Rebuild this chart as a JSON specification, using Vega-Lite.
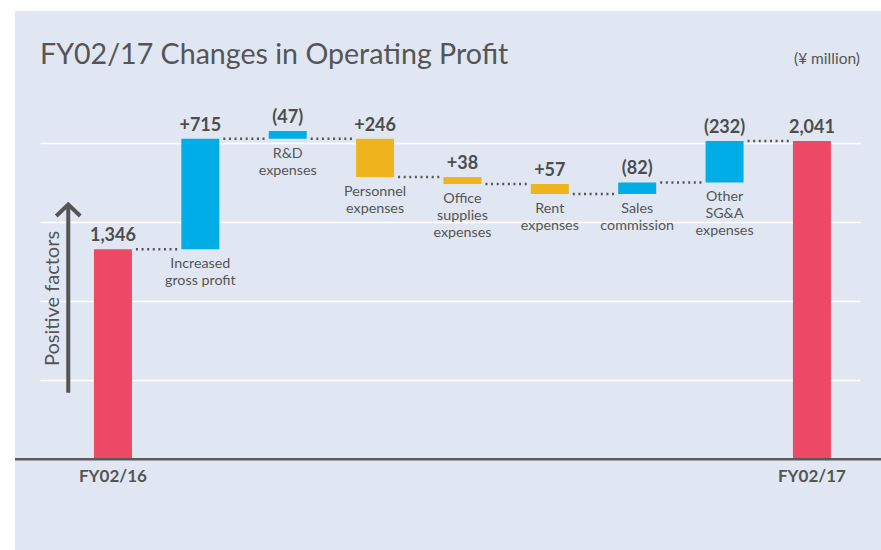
{
  "$schema": "https://vega.github.io/schema/vega-lite/v6.json",
  "width": 866,
  "height": 539,
  "autosize": {"type": "none"},
  "padding": {"left": 15, "top": 11, "right": 0, "bottom": 0},
  "background": "white",
  "config": {
    "view": {"fill": "#e0e7f3", "stroke": null},
    "font": "Lato",
    "axis": {"labelFont": "Lato", "titleFont": "Lato"}
  },
  "title": {
    "text": "FY02/17 Changes in Operating Profit",
    "anchor": "start",
    "frame": "group",
    "orient": "top",
    "offset": 0,
    "baseline": "alphabetic",
    "dx": 25,
    "dy": 82,
    "fontSize": 28.6,
    "fontWeight": "normal",
    "font": "Lato",
    "color": "#555555"
  },
  "datasets": {
    "bars": [
      {"cat": "FY02/16", "lo": 0, "hi": 1346, "group": "Total", "value": "1,346", "desc": ""},
      {"cat": "Increased gross profit", "lo": 1346, "hi": 2055, "group": "Group A", "value": "+715", "desc": "Increased\ngross profit"},
      {"cat": "R&D expenses", "lo": 2055, "hi": 2104, "group": "Group A", "value": "(47)", "desc": "R&D\nexpenses"},
      {"cat": "Personnel expenses", "lo": 1809, "hi": 2055, "group": "Group B", "value": "+246", "desc": "Personnel\nexpenses"},
      {"cat": "Office supplies expenses", "lo": 1765, "hi": 1809, "group": "Group B", "value": "+38", "desc": "Office\nsupplies\nexpenses"},
      {"cat": "Rent expenses", "lo": 1700, "hi": 1765, "group": "Group B", "value": "+57", "desc": "Rent\nexpenses"},
      {"cat": "Sales commission", "lo": 1700, "hi": 1775, "group": "Group A", "value": "(82)", "desc": "Sales\ncommission"},
      {"cat": "Other SG&A expenses", "lo": 1775, "hi": 2041, "group": "Group A", "value": "(232)", "desc": "Other\nSG&A\nexpenses"},
      {"cat": "FY02/17", "lo": 0, "hi": 2041, "group": "Total", "value": "2,041", "desc": ""}
    ],
    "links": [
      {"from": "FY02/16", "to": "Increased gross profit", "level": 1346},
      {"from": "Increased gross profit", "to": "R&D expenses", "level": 2055},
      {"from": "R&D expenses", "to": "Personnel expenses", "level": 2055},
      {"from": "Personnel expenses", "to": "Office supplies expenses", "level": 1809},
      {"from": "Office supplies expenses", "to": "Rent expenses", "level": 1765},
      {"from": "Rent expenses", "to": "Sales commission", "level": 1700},
      {"from": "Sales commission", "to": "Other SG&A expenses", "level": 1775},
      {"from": "Other SG&A expenses", "to": "FY02/17", "level": 2041}
    ],
    "arrow": [
      {"cat": "FY02/16", "bottom": 427, "tip": 1633}
    ],
    "unit": [
      {"cat": "FY02/17", "y": 2531, "text": "(¥ million)"}
    ]
  },
  "layer": [
    {
      "data": {"name": "bars"},
      "mark": {"type": "bar"},
      "encoding": {
        "x": {
          "field": "cat",
          "type": "nominal",
          "sort": null,
          "scale": {
            "domain": ["FY02/16", "Increased gross profit", "R&D expenses", "Personnel expenses", "Office supplies expenses", "Rent expenses", "Sales commission", "Other SG&A expenses", "FY02/17"],
            "range": [25, 845],
            "paddingInner": 0.565,
            "paddingOuter": 0.475,
            "align": 0.65
          },
          "axis": {
            "orient": "bottom",
            "offset": -90.7,
            "domain": false,
            "ticks": false,
            "grid": false,
            "title": null,
            "labelAngle": 0,
            "labelOverlap": false,
            "labelExpr": "datum.value == 'FY02/16' || datum.value == 'FY02/17' ? datum.value : ''",
            "labelFontSize": 17,
            "labelFontWeight": "bold",
            "labelColor": "#555555",
            "labelPadding": 9
          }
        },
        "y": {
          "field": "lo",
          "type": "quantitative",
          "scale": {"domain": [-581.4, 2873.6], "nice": false, "zero": false},
          "axis": {
            "values": [508, 1014, 1521, 2027],
            "grid": true,
            "gridColor": "#ffffff",
            "gridWidth": 1.5,
            "gridOpacity": 1,
            "labels": false,
            "ticks": false,
            "domain": false,
            "title": "Positive factors",
            "titleX": 37.5,
            "titleY": 287,
            "titleAngle": 270,
            "titleAlign": "center",
            "titleBaseline": "middle",
            "titleFontSize": 20,
            "titleFontWeight": "normal",
            "titleColor": "#555555"
          }
        },
        "y2": {"field": "hi"},
        "color": {
          "field": "group",
          "type": "nominal",
          "scale": {"domain": ["Total", "Group A", "Group B"], "range": ["#ed4866", "#00ade6", "#eeb31d"]},
          "legend": null
        }
      }
    },
    {
      "data": {"name": "links"},
      "mark": {"type": "rule", "color": "#555555", "strokeWidth": 2.5, "strokeDash": [2, 3.6], "xOffset": 4, "x2Offset": -4},
      "encoding": {
        "x": {"field": "from", "type": "nominal", "bandPosition": 1},
        "x2": {"field": "to", "bandPosition": 0},
        "y": {"field": "level", "type": "quantitative"}
      }
    },
    {
      "data": {"name": "bars"},
      "mark": {"type": "text", "dy": -8, "baseline": "alphabetic", "align": "center", "fontSize": 18, "fontWeight": "bold", "color": "#4d4d4d", "font": "Lato"},
      "encoding": {
        "x": {"field": "cat", "type": "nominal"},
        "y": {"field": "hi", "type": "quantitative"},
        "text": {"field": "value"}
      }
    },
    {
      "data": {"name": "bars"},
      "mark": {"type": "text", "dy": 8, "baseline": "top", "align": "center", "fontSize": 14.3, "lineHeight": 17, "lineBreak": "\n", "color": "#555555", "font": "Lato"},
      "encoding": {
        "x": {"field": "cat", "type": "nominal"},
        "y": {"field": "lo", "type": "quantitative"},
        "text": {"field": "desc"}
      }
    },
    {
      "data": {"values": [{"base": 0}]},
      "mark": {"type": "rule", "color": "#5a5a5a", "strokeWidth": 2.5},
      "encoding": {
        "y": {"field": "base", "type": "quantitative"}
      }
    },
    {
      "data": {"name": "arrow"},
      "mark": {"type": "rule", "color": "#555555", "strokeWidth": 4, "xOffset": -44.7},
      "encoding": {
        "x": {"field": "cat", "type": "nominal"},
        "y": {"field": "bottom", "type": "quantitative"},
        "y2": {"field": "tip"}
      }
    },
    {
      "data": {"name": "arrow"},
      "mark": {"type": "point", "shape": "M-1,0.95 L0,0 L1,0.95", "size": 576, "filled": false, "color": "#555555", "strokeWidth": 4, "strokeJoin": "miter", "opacity": 1, "xOffset": -44.7},
      "encoding": {
        "x": {"field": "cat", "type": "nominal"},
        "y": {"field": "tip", "type": "quantitative"}
      }
    },
    {
      "data": {"name": "unit"},
      "mark": {"type": "text", "align": "right", "baseline": "alphabetic", "fontSize": 15.5, "color": "#555555", "font": "Lato", "dx": 29},
      "encoding": {
        "x": {"field": "cat", "type": "nominal", "bandPosition": 1},
        "y": {"field": "y", "type": "quantitative"},
        "text": {"field": "text"}
      }
    }
  ]
}
